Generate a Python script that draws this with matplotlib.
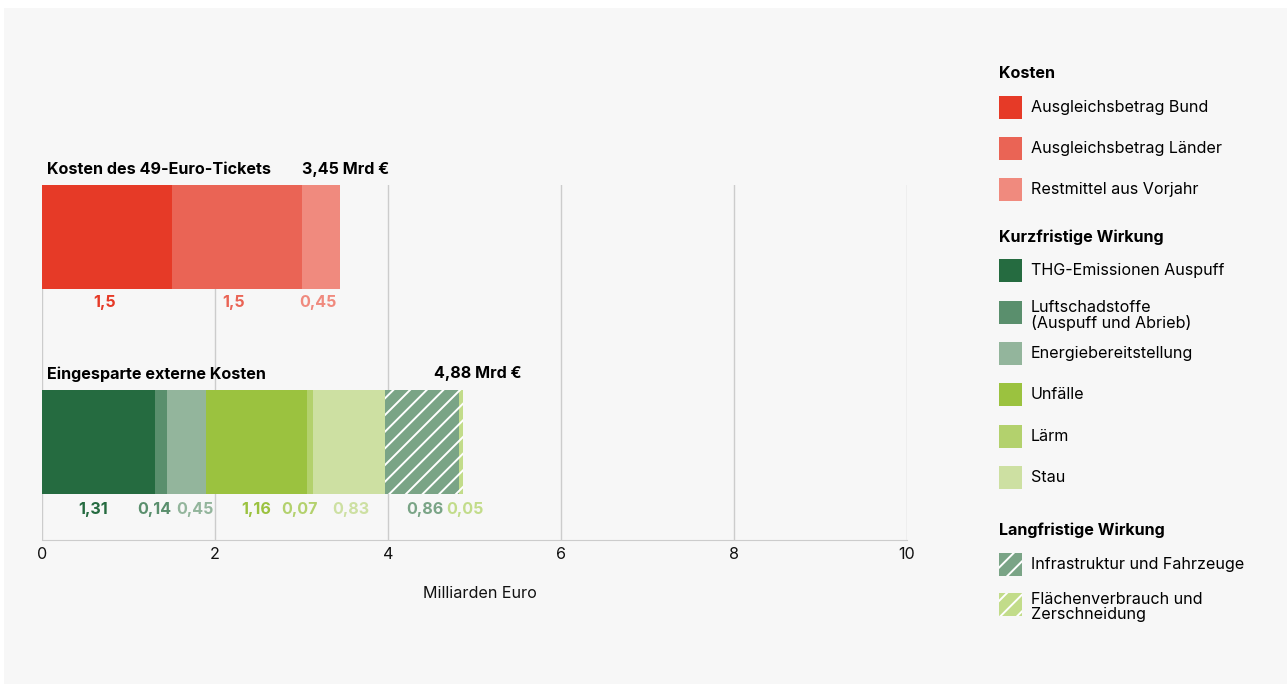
import numpy as np
import matplotlib
matplotlib.use("Agg")
from matplotlib import pyplot as plt
from matplotlib.patches import Rectangle

plt.rcParams['font.family'] = ['Inter', 'DejaVu Sans']
plt.rcParams['hatch.linewidth'] = 1.4

# --- data ---------------------------------------------------------------
cost_names = ["Ausgleichsbetrag Bund", "Ausgleichsbetrag Länder", "Restmittel aus Vorjahr"]
cost_values = [1.5, 1.5, 0.45]
cost_colors = ["#e63a27", "#ea6455", "#f08a7e"]
cost_total = "3,45 Mrd €"

short_names = ["THG-Emissionen Auspuff", "Luftschadstoffe\n(Auspuff und Abrieb)",
               "Energiebereitstellung", "Unfälle", "Lärm", "Stau"]
short_values = [1.31, 0.14, 0.45, 1.16, 0.07, 0.83]
short_colors = ["#256b40", "#5a8f6d", "#93b59c", "#9bc23f", "#b3d16d", "#cde0a2"]

long_names = ["Infrastruktur und Fahrzeuge", "Flächenverbrauch und\nZerschneidung"]
long_values = [0.86, 0.05]
long_colors = ["#7aa486", "#c2dc8a"]
saved_total = "4,88 Mrd €"

bar_titles = ["Kosten des 49-Euro-Tickets", "Eingesparte externe Kosten"]
x_ticks = [0, 2, 4, 6, 8, 10]

FS = 11.6
W, H = 1287, 684
fig = plt.figure(figsize=(W / 100, H / 100), dpi=100)
fig.patch.set_facecolor("white")
fig.add_artist(Rectangle((4 / W, 0), 1 - 4 / W, 1 - 8 / H, transform=fig.transFigure,
                         facecolor="#f7f7f7", edgecolor="none", zorder=-10))

ax = fig.add_axes([42 / W, 1 - 540 / H, 865 / W, 355 / H])
ax.set_facecolor("none")
ax.set_xlim(0, 10)
ax.set_ylim(-0.477, 1.25)
for s in ["top", "right", "left"]:
    ax.spines[s].set_visible(False)
ax.spines["bottom"].set_color("#cccccc")
ax.set_xticks(x_ticks)
ax.set_xticklabels([str(t) for t in x_ticks])
ax.tick_params(axis="x", length=0, pad=5, labelsize=FS, colors="#111111")
ax.set_yticks([])
ax.grid(axis="x", color="#cccccc", lw=1)
ax.set_axisbelow(True)
ax.set_xlabel("Milliarden Euro", fontsize=FS, labelpad=17, color="#111111")
ax.xaxis.set_label_coords(0.506, -0.13)

bh = 0.51


def fmt(v):
    return ("%g" % v).replace(".", ",")


# cost bar
left = 0.0
label_nudge_top = [-0.03, -0.04, -0.03]
for v, c, nd in zip(cost_values, cost_colors, label_nudge_top):
    ax.barh(1, v, left=left, height=bh, color=c, edgecolor="none")
    ax.text(left + v / 2 + nd, 1 - 0.32, fmt(v), ha="center", va="center",
            color=c, fontsize=FS, fontweight="bold")
    left += v
ax.text(0.06, 1.324, bar_titles[0], ha="left", va="center", fontsize=FS,
        fontweight="bold", clip_on=False)
ax.text(left + 0.56, 1.324, cost_total, ha="right", va="center", fontsize=FS,
        fontweight="bold", clip_on=False)

# savings bar
left = 0.0
label_nudge_bot = [-0.06, -0.08, 0.09, 0.0, -0.12, 0.02, 0.04, 0.05]
vals = short_values + long_values
cols = short_colors + long_colors
hatches = [None] * len(short_values) + ["//"] * len(long_values)
for v, c, h, nd in zip(vals, cols, hatches, label_nudge_bot):
    if h:
        ax.barh(0, v, left=left, height=bh, color=c, edgecolor="white",
                hatch=h, linewidth=0)
    else:
        ax.barh(0, v, left=left, height=bh, color=c, edgecolor="none")
    ax.text(left + v / 2 + nd, -0.33, fmt(v), ha="center", va="center",
            color=c, fontsize=FS, fontweight="bold")
    left += v
ax.text(0.06, 0.331, bar_titles[1], ha="left", va="center", fontsize=FS,
        fontweight="bold", clip_on=False)
ax.text(left + 0.67, 0.331, saved_total, ha="right", va="center", fontsize=FS,
        fontweight="bold", clip_on=False)

# legend in pixel coordinates
lg = fig.add_axes([0, 0, 1, 1])
lg.set_xlim(0, W)
lg.set_ylim(H, 0)
lg.axis("off")


def head(y, txt):
    lg.text(999, y, txt, ha="left", va="center", fontsize=FS, fontweight="bold")


def item(top, txt, color, hatch=None):
    lg.add_patch(Rectangle((999, top), 23, 23, facecolor=color,
                           edgecolor="white" if hatch else "none",
                           hatch=hatch, linewidth=0))
    if "\n" in txt:
        lg.text(1031, top - 1, txt, ha="left", va="top", fontsize=FS,
                linespacing=1.0)
    else:
        lg.text(1031, top + 11.5, txt, ha="left", va="center", fontsize=FS)


head(73, "Kosten")
for t, n, c in zip([96, 137, 178], cost_names, cost_colors):
    item(t, n, c)
head(237, "Kurzfristige Wirkung")
for t, n, c in zip([259, 301, 342, 383, 425, 466], short_names, short_colors):
    item(t, n, c)
head(530, "Langfristige Wirkung")
for t, n, c in zip([553, 593], long_names, long_colors):
    item(t, n, c, hatch="//")

fig.savefig("out.png", dpi=100)
